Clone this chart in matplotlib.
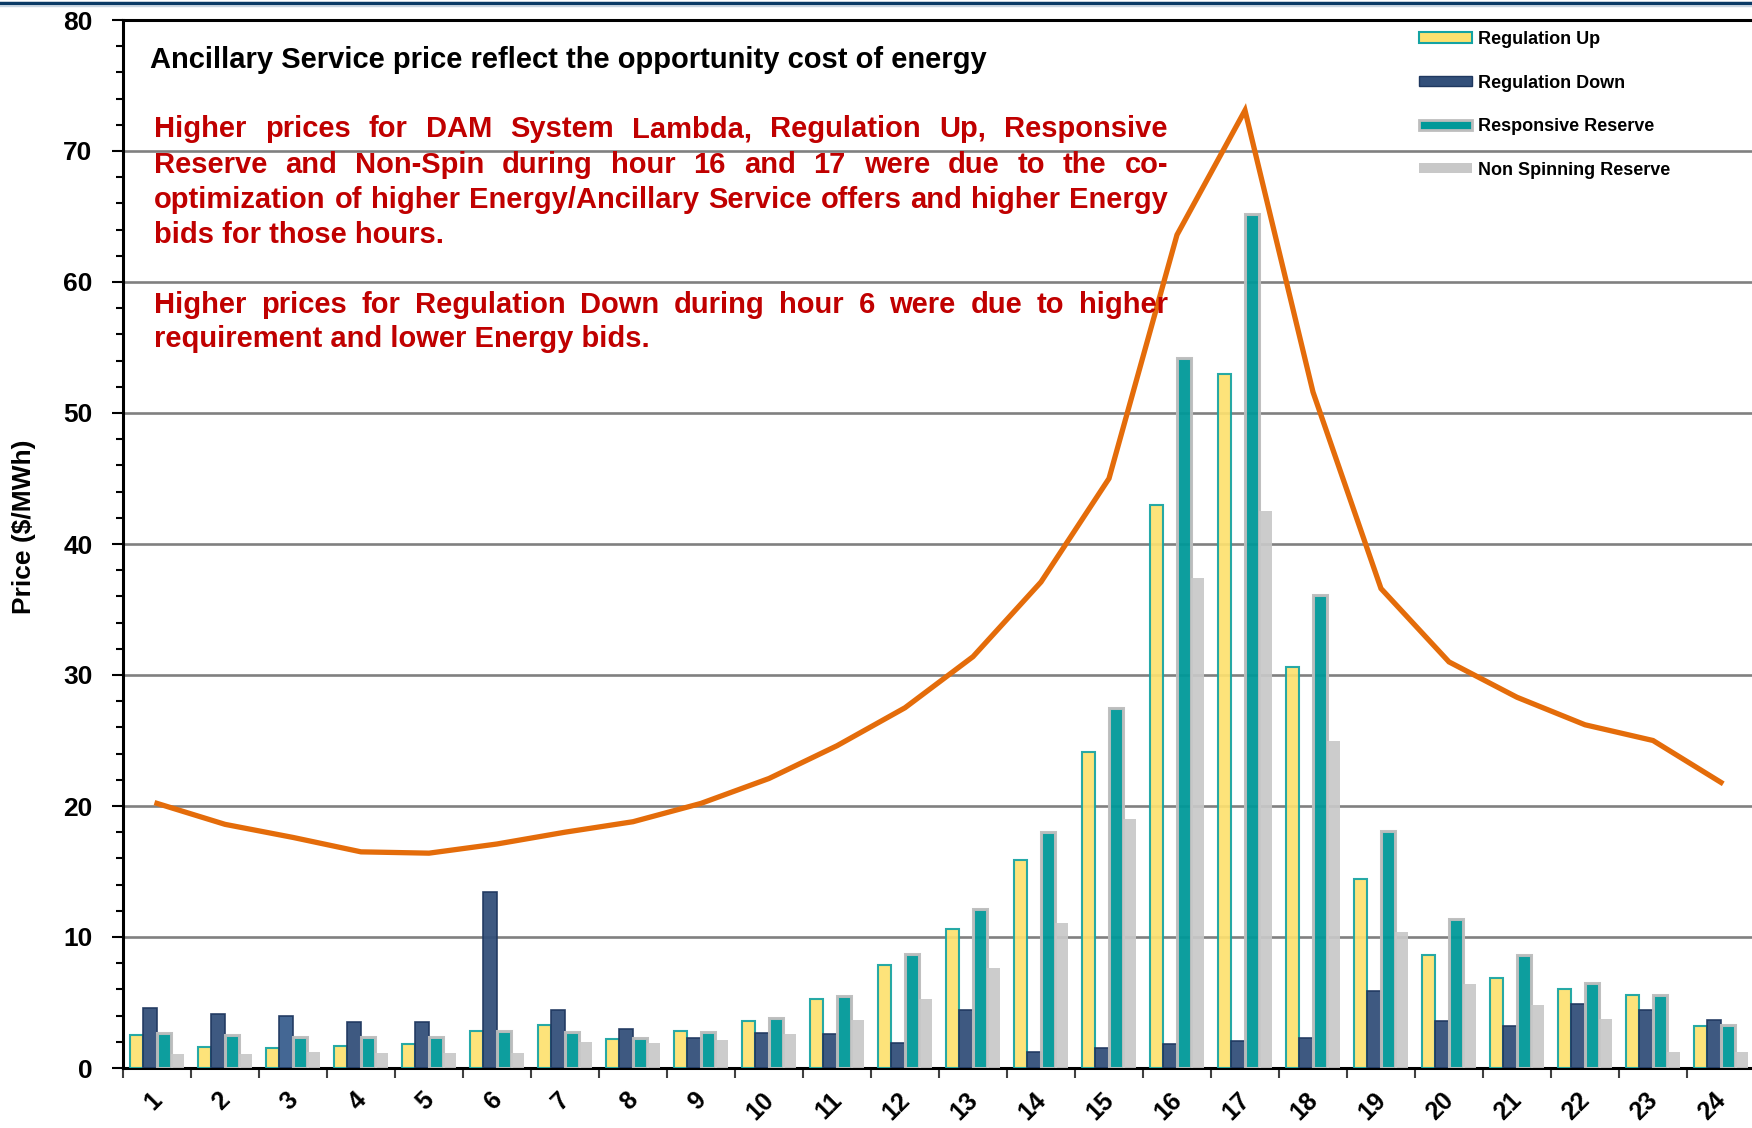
import numpy as np
import matplotlib
matplotlib.use("Agg")
import matplotlib.pyplot as plt
from matplotlib.patches import Patch
from matplotlib.lines import Line2D
from matplotlib.ticker import MultipleLocator, FixedLocator

plt.rcParams['font.family'] = ['Liberation Sans', 'DejaVu Sans']
plt.rcParams['font.weight'] = 'bold'

hours = [str(h) for h in range(1, 25)]
reg_up = [2.5, 1.6, 1.5, 1.7, 1.8, 2.8, 3.3, 2.2, 2.8, 3.6, 5.3, 7.9, 10.6, 15.9,
          24.1, 43.0, 53.0, 30.6, 14.4, 8.6, 6.85, 6.0, 5.6, 3.2]
reg_down = [4.6, 4.1, 4.0, 3.5, 3.5, 13.4, 4.4, 3.0, 2.3, 2.65, 2.6, 1.9, 4.4, 1.2,
            1.55, 1.8, 2.05, 2.3, 5.9, 3.6, 3.2, 4.85, 4.45, 3.65]
resp_res = [2.7, 2.5, 2.35, 2.35, 2.35, 2.85, 2.75, 2.3, 2.75, 3.8, 5.5, 8.7, 12.1, 18.0,
            27.5, 54.2, 65.2, 36.1, 18.1, 11.4, 8.6, 6.5, 5.6, 3.3]
non_spin = [1.07, 1.07, 1.2, 1.14, 1.14, 1.14, 1.98, 1.88, 2.14, 2.57, 3.66, 5.27, 7.6, 11.05,
            19.0, 37.4, 42.5, 25.0, 10.4, 6.45, 4.8, 3.75, 1.2, 1.2]
lambda_price = [20.2, 18.6, 17.6, 16.5, 16.4, 17.1, 18.0, 18.8, 20.2, 22.1, 24.6, 27.5,
                31.4, 37.1, 45.0, 63.6, 73.1, 51.6, 36.6, 31.0, 28.3, 26.2, 25.0, 21.8]

W, H = 1752, 1128
fig = plt.figure(figsize=(W / 100, H / 100), dpi=100)
ax = fig.add_axes([123 / W, 1 - 1068 / H, 1632 / W, 1048 / H])

yellow, navy, teal, lgray = '#FDE16F', '#33507A', '#009999', '#C8C8C8'
orange = '#E46C0A'

x = np.arange(len(hours))
w = 0.2
ax.bar(x - 1.5 * w, reg_up, w, color=yellow, edgecolor='#14A3A3', linewidth=1.5, alpha=0.92, zorder=3)
bd = ax.bar(x - 0.5 * w, reg_down, w, color=navy, edgecolor='#1F3860', linewidth=1.2, alpha=0.95, zorder=3)
bd[2].set_facecolor('#3A5F8E')
ax.bar(x + 0.5 * w, resp_res, w, color=teal, edgecolor='#BDBDBD', linewidth=2.2, alpha=0.95, zorder=3)
ax.bar(x + 1.5 * w, non_spin, w, color=lgray, edgecolor='none', alpha=0.92, zorder=3)
ax.plot(x, lambda_price, color=orange, lw=3.8, zorder=4, solid_joinstyle='miter')

ax.set_xlim(-0.5, 23.5)
ax.set_ylim(0, 80)
ax.yaxis.set_major_locator(MultipleLocator(10))
ax.yaxis.set_minor_locator(MultipleLocator(2))
ax.grid(axis='y', which='major', color='#808080', lw=1.9, zorder=1)
ax.set_axisbelow(True)

# label anchors nudged right a little so the rotated text sits like the original
ax.set_xticks(x + 0.14)
ax.set_xticklabels(hours, rotation=45, ha='right', fontsize=18, fontweight='bold')
ax.xaxis.set_minor_locator(FixedLocator(np.arange(-0.5, 24, 1)))
ax.tick_params(axis='x', which='major', length=0, pad=14)
ax.tick_params(axis='x', which='minor', length=7, width=1.5, color='#404040', direction='out')
ax.tick_params(axis='y', which='major', length=8, width=1.5, labelsize=19, pad=14)
ax.tick_params(axis='y', which='minor', length=5, width=1.5)
for lab in ax.get_yticklabels():
    lab.set_fontweight('bold')

for s in ['left', 'top', 'bottom']:
    ax.spines[s].set_linewidth(2.2)
    ax.spines[s].set_color('black')
ax.spines['right'].set_visible(False)
ax.set_ylabel('Price ($/MWh)', fontsize=19, fontweight='bold')
ax.yaxis.set_label_coords(-0.0535, 0.516)

handles = [Patch(facecolor=yellow, edgecolor='#14A3A3', lw=1.5),
           Patch(facecolor=navy, edgecolor='#1F3860', lw=1),
           Patch(facecolor=teal, edgecolor='#BDBDBD', lw=2),
           Patch(facecolor=lgray, edgecolor='none')]
labels = ['Regulation Up', 'Regulation Down', 'Responsive Reserve', 'Non Spinning Reserve']
leg = fig.legend(handles, labels, loc='upper left', bbox_to_anchor=(1419 / W, 1 - 31 / H),
                 frameon=False, fontsize=13, handlelength=2.95, handleheight=0.5,
                 handletextpad=0.3, labelspacing=1.47, borderpad=0, borderaxespad=0)
for t in leg.get_texts():
    t.set_fontweight('bold')

# header rule at the top of the slide
fig.add_artist(Line2D([0, 1], [1 - 3 / H] * 2, color='#0B3A66', lw=2.5))
fig.add_artist(Line2D([0, 1], [1 - 6 / H] * 2, color='#C9D6E3', lw=1))

fig.text(150 / W, 1 - 68 / H, 'Ancillary Service price reflect the opportunity cost of energy',
         fontsize=21, fontweight='bold', color='black', va='baseline')

red = '#C00000'
renderer = fig.canvas.get_renderer()


def line_text(s, y, x0=154, x1=1168, justify=True):
    words = s.split()
    txts = [fig.text(x0 / W, 1 - y / H, wd, fontsize=21, fontweight='bold', color=red,
                     va='baseline') for wd in words]
    if not justify:
        for t in txts[1:]:
            t.remove()
        txts[0].set_text(s)
        return
    widths = [t.get_window_extent(renderer).width for t in txts]
    gap = (x1 - x0 - sum(widths)) / (len(words) - 1)
    xx = x0
    for t, wd in zip(txts, widths):
        t.set_x(xx / W)
        xx += wd + gap


line_text('Higher prices for DAM System Lambda, Regulation Up, Responsive', 137)
line_text('Reserve and Non-Spin during hour 16 and 17 were due to the co-', 173)
line_text('optimization of higher Energy/Ancillary Service offers and higher Energy', 208)
line_text('bids for those hours.', 243, justify=False)
line_text('Higher prices for Regulation Down during hour 6 were due to higher', 313)
line_text('requirement and lower Energy bids.', 347, justify=False)

fig.savefig('out.png', dpi=100)
